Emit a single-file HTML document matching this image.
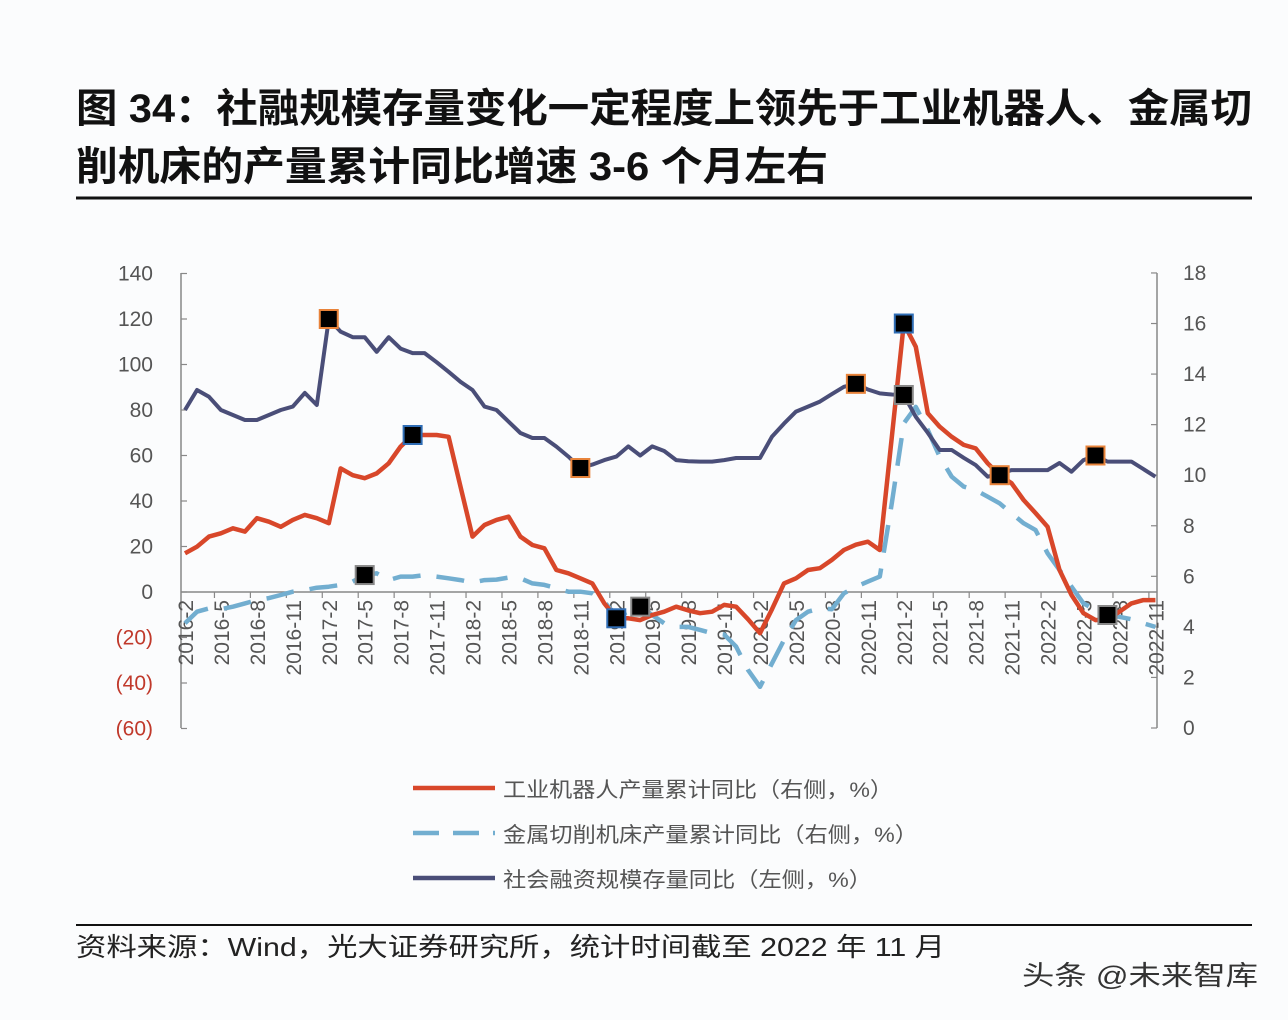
<!DOCTYPE html>
<html><head><meta charset="utf-8">
<style>
html,body{margin:0;padding:0;background:#fbfcfd;}
svg{display:block;font-family:"Liberation Sans","Noto Sans CJK SC",sans-serif;}
</style></head>
<body>
<svg id="chart" width="1288" height="1020" viewBox="0 0 1288 1020" xmlns="http://www.w3.org/2000/svg">
<rect x="0" y="0" width="1288" height="1020" fill="#fbfcfd"/>
<text x="76" y="122" font-size="40" font-weight="bold" fill="#111" textLength="1176" lengthAdjust="spacingAndGlyphs">图 34：社融规模存量变化一定程度上领先于工业机器人、金属切</text>
<text x="76" y="180" font-size="40" font-weight="bold" fill="#111" textLength="752" lengthAdjust="spacingAndGlyphs">削机床的产量累计同比增速 3-6 个月左右</text>
<line x1="76" y1="198" x2="1252" y2="198" stroke="#111" stroke-width="3"/>
<g id="axes"></g>
<g id="series"></g>
<g id="legend">
  <line x1="413" y1="788" x2="495" y2="788" stroke="#d8472a" stroke-width="4.5"/>
  <text x="503" y="797" font-size="21" fill="#555" textLength="390" lengthAdjust="spacingAndGlyphs">工业机器人产量累计同比（右侧，%）</text>
  <line x1="413" y1="833" x2="495" y2="833" stroke="#72aed0" stroke-width="4.5" stroke-dasharray="26,14"/>
  <text x="503" y="842" font-size="21" fill="#555" textLength="415" lengthAdjust="spacingAndGlyphs">金属切削机床产量累计同比（右侧，%）</text>
  <line x1="413" y1="878" x2="495" y2="878" stroke="#4a4e78" stroke-width="4.5"/>
  <text x="503" y="887" font-size="21" fill="#555" textLength="369" lengthAdjust="spacingAndGlyphs">社会融资规模存量同比（左侧，%）</text>
</g>
<line x1="76" y1="925" x2="1252" y2="925" stroke="#111" stroke-width="2"/>
<text x="76" y="956" font-size="26" fill="#222" textLength="869" lengthAdjust="spacingAndGlyphs">资料来源：Wind，光大证券研究所，统计时间截至 2022 年 11 月</text>
<text x="1022" y="985" font-size="27" fill="#333" textLength="236" lengthAdjust="spacingAndGlyphs">头条 @未来智库</text>
</svg>
<script>
const tickLabelsLeft = ["140","120","100","80","60","40","20","0","(20)","(40)","(60)"];
const tickValuesLeft = [140,120,100,80,60,40,20,0,-20,-40,-60];
const tickValuesRight = [18,16,14,12,10,8,6,4,2,0];
const startYear = 2016, startMonth = 2, nPoints = 82;
const tsf = [80,88.8,85.8,80,77.8,75.6,75.6,77.8,80,81.5,87.5,82.2,120,114.4,112,112,105.6,112,107,105,105,101,96.8,92.4,88.8,81.5,80,74.9,69.9,67.7,67.7,63.9,59.5,54.5,56,58,59.5,64,60,64,62,58,57.5,57.3,57.3,58,58.9,58.9,58.9,68.3,74,79.3,81.5,83.7,87,90.2,91.5,89,87.3,86.8,86.6,77,70,62.4,62.4,59,55.8,50.7,52,53.6,53.6,53.6,53.6,56.7,52.9,58,60,57.3,57.3,57.3,54,50.7];
const robot = [6.91,7.17,7.57,7.7,7.9,7.77,8.3,8.16,7.96,8.23,8.43,8.3,8.1,10.27,10.0,9.88,10.07,10.47,11.13,11.59,11.59,11.59,11.52,9.55,7.57,8.03,8.23,8.36,7.57,7.24,7.11,6.25,6.12,5.92,5.72,4.93,4.34,4.34,4.27,4.47,4.6,4.8,4.65,4.54,4.6,4.87,4.8,4.3,3.75,4.7,5.72,5.92,6.25,6.32,6.65,7.04,7.25,7.37,7.04,11.5,16.0,15.08,12.45,11.92,11.52,11.2,11.06,10.47,10.0,9.68,9.02,8.5,7.96,6.25,5.26,4.54,4.27,4.3,4.6,4.93,5.06,5.06];
const metal = [4.14,4.6,4.73,4.7,4.8,4.93,5.06,5.14,5.26,5.39,5.45,5.55,5.59,5.66,5.79,6.05,6.12,5.85,5.99,5.99,6.05,5.99,5.92,5.85,5.75,5.85,5.87,5.95,5.92,5.72,5.66,5.53,5.39,5.39,5.33,5.0,4.4,4.6,4.8,4.47,4.14,4.0,4.0,3.88,3.75,3.7,3.22,2.29,1.63,2.56,3.48,4.27,4.6,4.73,4.7,5.33,5.59,5.79,5.99,8.89,12.05,12.7,11.79,10.73,9.94,9.55,9.41,9.15,8.89,8.49,8.1,7.83,6.91,6.25,5.59,4.93,4.67,4.47,4.4,4.3,4.14,4.0];
const markerIdx = [12,19,15,33,36,38,56,60,60,68,76,77];
const markerSeries = ["tsf","robot","metal","tsf","robot","metal","tsf","robot","tsf","robot","tsf","metal"];
const markerBorder = ["#e8833a","#2f6db5","#888","#e8833a","#2f6db5","#888","#e8833a","#2f6db5","#888","#e8833a","#e8833a","#888"];

const NS = "http://www.w3.org/2000/svg";
const X0 = 185, STEP = 11.98;
const yL = v => 592 - v * 2.275;
const yR = v => 728 - v * 25.28;
const xAt = i => X0 + i * STEP;
function mk(tag, attrs, parent){const e=document.createElementNS(NS,tag);for(const k in attrs)e.setAttribute(k,attrs[k]);parent.appendChild(e);return e;}
const axes = document.getElementById('axes');
const series = document.getElementById('series');

let e = mk('line',{x1:181,y1:273,x2:181,y2:728,stroke:'#888','stroke-width':1.5},axes);


e = mk('line',{x1:1157,y1:273,x2:1157,y2:728,stroke:'#888','stroke-width':1.5},axes);


e = mk('line',{x1:181,y1:yL(0),x2:1157,y2:yL(0),stroke:'#888','stroke-width':1.5},axes);



tickValuesLeft.forEach((v,k)=>{
  const y=yL(v);
  mk('line',{x1:181,y1:y,x2:187,y2:y,stroke:'#888','stroke-width':1.2},axes);
  const t=mk('text',{x:153,y:y+7,'font-size':21,'text-anchor':'end',fill:v<0?'#c0392b':'#555'},axes);
  t.textContent=tickLabelsLeft[k];
  
  
});
tickValuesRight.forEach(v=>{
  const y=yR(v);
  mk('line',{x1:1151,y1:y,x2:1157,y2:y,stroke:'#888','stroke-width':1.2},axes);
  const t=mk('text',{x:1183,y:y+7,'font-size':21,fill:'#555'},axes);
  t.textContent=String(v);
  
  
});
for(let i=0;i<nPoints;i+=3){
  const m0=startMonth-1+i, yr=startYear+Math.floor(m0/12), mo=m0%12+1;
  const x=xAt(i);
  if(i>0) mk('line',{x1:x-STEP/2-0.5,y1:yL(0),x2:x-STEP/2-0.5,y2:yL(0)+6,stroke:'#888','stroke-width':1.2},axes);
  const t=mk('text',{x:0,y:0,'font-size':21,'text-anchor':'end',fill:'#555',transform:`translate(${x+8},${yL(0)+8}) rotate(-90)`},axes);
  t.textContent=yr+'-'+mo;
  
  
}
function path(arr,yf){return arr.map((v,i)=>(i?'L':'M')+xAt(i).toFixed(1)+' '+yf(v).toFixed(1)).join(' ');}
e=mk('path',{d:path(metal,yR),fill:'none',stroke:'#72aed0','stroke-width':4.5,'stroke-dasharray':'28,16','stroke-linejoin':'round'},series);


e=mk('path',{d:path(tsf,yL),fill:'none',stroke:'#4a4e78','stroke-width':4,'stroke-linejoin':'round'},series);


e=mk('path',{d:path(robot,yR),fill:'none',stroke:'#d8472a','stroke-width':4.5,'stroke-linejoin':'round'},series);


const sMap={tsf:[tsf,yL],robot:[robot,yR],metal:[metal,yR]};
markerIdx.forEach((idx,k)=>{
  const [arr,yf]=sMap[markerSeries[k]];
  const x=xAt(idx), y=yf(arr[idx]);
  const r=mk('rect',{x:x-9,y:y-9,width:18,height:18,fill:'#000',stroke:markerBorder[k],'stroke-width':2},series);
  
  
});
</script>
</body></html>
